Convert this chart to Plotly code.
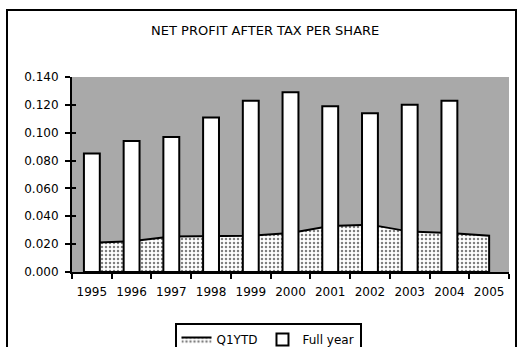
import plotly.graph_objects as go

years = ["1995", "1996", "1997", "1998", "1999", "2000", "2001", "2002", "2003", "2004", "2005"]
q1ytd = [0.021, 0.022, 0.0255, 0.026, 0.026, 0.028, 0.033, 0.034, 0.029, 0.028, 0.026]
full_year = [0.085, 0.094, 0.097, 0.111, 0.123, 0.129, 0.119, 0.114, 0.120, 0.123, None]
title_text = "NET PROFIT AFTER TAX PER SHARE"

FONT = "DejaVu Sans"
W, H = 521, 347
ML, MR, MT, MB = 72, 12, 77, 75
PW, PH = W - ML - MR, H - MT - MB

def px_x(x):
    return (x - ML) / PW

def px_y(y):
    return (H - MB - y) / PH

fig = go.Figure()

# closed area outline (Excel-style area incl. drop edges)
fig.add_trace(go.Scatter(
    x=years + [years[-1], years[0]],
    y=q1ytd + [0, 0],
    name="Q1YTD",
    mode="lines",
    fill="toself",
    fillcolor="white",
    fillpattern=dict(shape=".", fgcolor="black", bgcolor="white", size=4, solidity=0.3),
    line=dict(color="black", width=2),
    xaxis="x", yaxis="y",
))

fig.add_trace(go.Bar(
    x=years, y=full_year, name="Full year",
    marker=dict(color="white", line=dict(color="black", width=2)),
    width=0.40,
    xaxis="x", yaxis="y2",
))

fig.update_layout(
    width=W, height=H,
    margin=dict(l=ML, r=MR, t=MT, b=MB, autoexpand=False),
    paper_bgcolor="white",
    plot_bgcolor="#a9a9a9",
    font=dict(family=FONT, size=12, color="black"),
    title=dict(text=title_text, x=0.509, xanchor="center", y=1 - 30 / H, yanchor="middle",
               font=dict(family=FONT, size=13, color="black")),
    showlegend=True,
    legend=dict(orientation="h", x=px_x(268), xanchor="center", y=px_y(323), yanchor="top",
                bordercolor="black", borderwidth=2, bgcolor="white",
                font=dict(family=FONT, size=12), itemwidth=30, tracegroupgap=0),
    xaxis=dict(type="category", range=[-0.5, 10.5], tickson="boundaries",
               ticks="outside", ticklen=5, tickwidth=2, tickcolor="black", tickangle=0,
               showline=True, linecolor="black", linewidth=2, showgrid=False,
               zeroline=False, ticklabelstandoff=8),
    yaxis=dict(range=[0, 0.14], dtick=0.02, tickformat=".3f",
               ticks="outside", ticklen=5, tickwidth=2, tickcolor="black",
               showline=True, linecolor="black", linewidth=2, showgrid=False,
               zeroline=False, ticklabelstandoff=4),
    yaxis2=dict(overlaying="y", matches="y", side="left", range=[0, 0.14], dtick=0.02,
                ticks="inside", ticklen=4, tickwidth=2, tickcolor="black",
                showticklabels=False, showline=False, showgrid=False, zeroline=False),
    barmode="overlay",
)

fig.add_shape(type="rect", xref="paper", yref="paper",
              x0=px_x(7), x1=px_x(516), y0=px_y(355), y1=px_y(10),
              line=dict(color="black", width=2), fillcolor="rgba(0,0,0,0)", layer="above")

fig.write_html("out.html")
